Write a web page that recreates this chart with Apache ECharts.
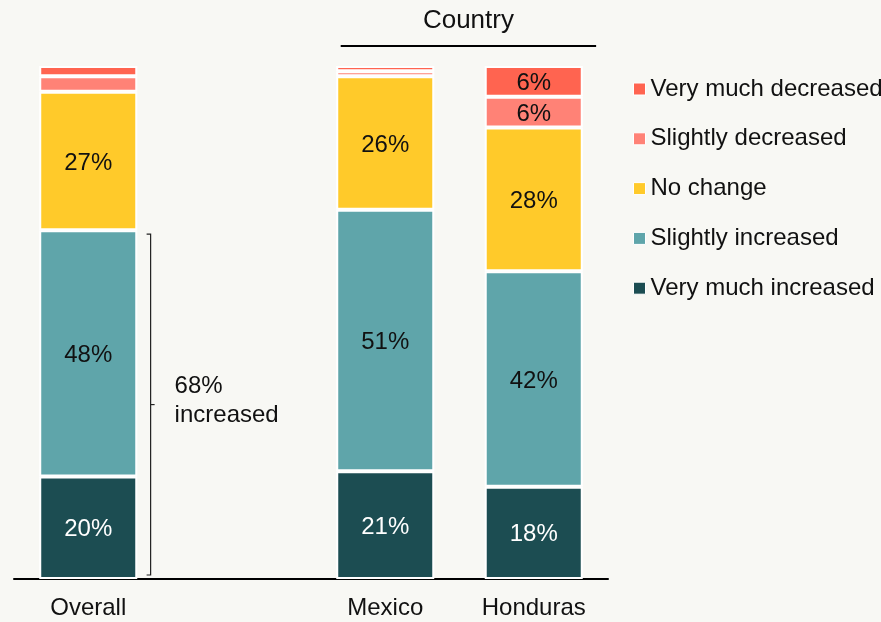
<!DOCTYPE html>
<html>
<head>
<meta charset="utf-8">
<script src="https://cdn.jsdelivr.net/npm/echarts@6/dist/echarts.min.js"></script>
<style>
  html, body { margin: 0; padding: 0; background: #F8F8F4; }
  #chart { width: 881px; height: 622px; }
</style>
</head>
<body>
<div id="chart"></div>
<script>
// Share of respondents by change, stacked to 100% per group
const categories = ['Overall', '', 'Mexico', 'Honduras'];
const veryMuchIncreased = [20, null, 21, 18];
const slightlyIncreased = [48, null, 51, 42];
const noChange = [27, null, 26, 28];
const slightlyDecreased = [3, null, 1, 6];
const veryMuchDecreased = [2, null, 1, 6];
const increasedShare = 68; // very much + slightly increased, overall
const groupTitle = 'Country';

const FONT = '"Liberation Sans", Arial, sans-serif';
const TEXT = '#111111';

const seriesDefs = [
  { name: 'Very much increased', data: veryMuchIncreased, color: '#1C4D52', labelColor: '#ffffff' },
  { name: 'Slightly increased', data: slightlyIncreased, color: '#5FA5AA', labelColor: TEXT },
  { name: 'No change', data: noChange, color: '#FFCA2A', labelColor: TEXT },
  { name: 'Slightly decreased', data: slightlyDecreased, color: '#FF8276', labelColor: TEXT },
  { name: 'Very much decreased', data: veryMuchDecreased, color: '#FF6450', labelColor: TEXT }
];

const chart = echarts.init(document.getElementById('chart'));

const option = {
  backgroundColor: '#F8F8F4',
  animation: false,
  textStyle: { fontFamily: FONT },
  grid: { left: 14, right: 273, top: 66, bottom: 43 },
  legend: {
    orient: 'vertical',
    left: 628,
    top: 72,
    itemWidth: 12,
    itemHeight: 12,
    itemGap: 25.8,
    icon: 'rect',
    itemStyle: { borderColor: '#ffffff', borderWidth: 1 },
    data: seriesDefs.map(s => s.name).reverse(),
    textStyle: { fontFamily: FONT, fontSize: 24, color: TEXT, lineHeight: 24, padding: [0, 0, 0, 0] }
  },
  xAxis: {
    type: 'category',
    data: categories,
    axisLine: { show: true, lineStyle: { color: '#000000', width: 2 } },
    axisTick: { show: false },
    axisLabel: { fontFamily: FONT, fontSize: 24, color: TEXT, margin: 17 }
  },
  yAxis: {
    type: 'value',
    min: 0,
    max: 100,
    show: false,
    splitLine: { show: false }
  },
  series: seriesDefs.map(s => ({
    name: s.name,
    type: 'bar',
    stack: 'total',
    barWidth: '66%',
    data: s.data,
    itemStyle: { color: s.color, borderColor: '#ffffff', borderWidth: 2 },
    label: {
      show: true,
      position: 'inside',
      offset: [0, 2],
      fontFamily: FONT,
      fontSize: 24,
      color: s.labelColor,
      formatter: p => (p.value != null && p.value >= 5) ? p.value + '%' : ''
    }
  }))
};

chart.setOption(option);

// Annotations placed from axis coordinates
const xOverall = chart.convertToPixel({ xAxisIndex: 0 }, 'Overall');
const xMexico = chart.convertToPixel({ xAxisIndex: 0 }, 'Mexico');
const xHonduras = chart.convertToPixel({ xAxisIndex: 0 }, 'Honduras');
const band = xHonduras - xMexico;
const yBase = chart.convertToPixel({ yAxisIndex: 0 }, 0);
const yInc = chart.convertToPixel({ yAxisIndex: 0 }, increasedShare);

const bx = xOverall + band * 0.42;
const bTop = yInc + 4;
const bBot = yBase - 4;
const bMid = (bTop + bBot) / 2;
const bracketStyle = { stroke: '#222222', lineWidth: 1.2, fill: null };

const lineLeft = xMexico - band * 0.3;
const lineRight = xHonduras + band * 0.42;

chart.setOption({
  graphic: [
    {
      type: 'polyline',
      shape: { points: [[bx - 4, bTop], [bx, bTop], [bx, bBot], [bx - 4, bBot]] },
      style: bracketStyle
    },
    {
      type: 'line',
      shape: { x1: bx, y1: bMid, x2: bx + 4, y2: bMid },
      style: bracketStyle
    },
    {
      type: 'text',
      x: bx + 24,
      y: bMid - 4,
      style: {
        text: increasedShare + '%\nincreased',
        fontFamily: FONT,
        fontSize: 24,
        lineHeight: 29,
        fill: TEXT,
        verticalAlign: 'middle',
        align: 'left'
      }
    },
    {
      type: 'line',
      shape: { x1: lineLeft, y1: 46, x2: lineRight, y2: 46 },
      style: { stroke: '#000000', lineWidth: 2 }
    },
    {
      type: 'text',
      x: (lineLeft + lineRight) / 2,
      y: 21,
      style: {
        text: groupTitle,
        fontFamily: FONT,
        fontSize: 26,
        fill: TEXT,
        align: 'center',
        verticalAlign: 'middle'
      }
    }
  ]
});
</script>
</body>
</html>
